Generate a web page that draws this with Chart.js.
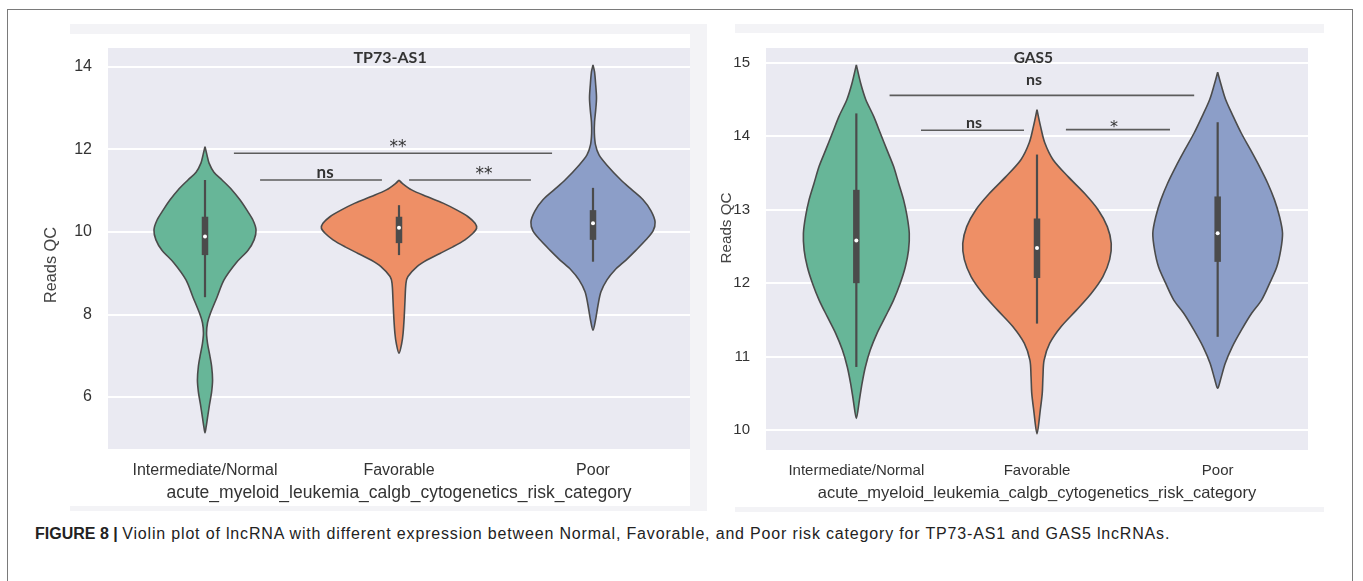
<!DOCTYPE html>
<html>
<head>
<meta charset="utf-8">
<script src="https://cdn.jsdelivr.net/npm/chart.js@4.4.1/dist/chart.umd.min.js"></script>
<style>
  html, body { margin: 0; padding: 0; background: #fff; }
  body { width: 1363px; height: 581px; position: relative; overflow: hidden; font-family: 'Liberation Sans', Arial, sans-serif; }
  #frame { position: absolute; left: 7px; top: 9px; width: 1344px; height: 620px; border: 1.5px solid #7a7a7a; border-bottom: none; }
  .band { position: absolute; background: #f3f3f6; }
  .panel { position: absolute; top: 0; }
  #caption { position: absolute; left: 35px; top: 525px; font-size: 16px; color: #222; white-space: nowrap; }
</style>
</head>
<body>
<div id="frame"></div>
<div class="band" style="left:70px;top:24px;width:620px;height:10px"></div>
<div class="band" style="left:70px;top:506px;width:620px;height:5px"></div>
<div class="band" style="left:690px;top:24px;width:17px;height:487px"></div>
<div class="band" style="left:735px;top:24px;width:589px;height:9px"></div>
<div class="band" style="left:735px;top:507px;width:589px;height:5px"></div>
<div class="panel" style="left:0"><canvas id="tp73" width="700" height="504"></canvas></div>
<div class="panel" style="left:710px"><canvas id="gas5" width="640" height="503"></canvas></div>
<div id="caption"><b>FIGURE 8 |</b> <span id="capText">Violin plot of lncRNA with different expression between Normal, Favorable, and Poor risk category for TP73-AS1 and GAS5 lncRNAs.</span></div>

<script>
// Risk categories shared by both panels
const categories = ['Intermediate/Normal', 'Favorable', 'Poor'];
const axisTitle = 'acute_myeloid_leukemia_calgb_cytogenetics_risk_category';

// ---- TP73-AS1 ----
// Violin outlines: Reads QC levels from top tip to bottom tip, with the half-width (category units) at each level
const tp73NormalY = [12.07, 11.87, 11.67, 11.45, 11.26, 11.02, 10.78, 10.53, 10.29, 10.05, 9.81, 9.56, 9.25, 8.84, 8.42, 8.03, 7.80, 7.55, 7.30, 7.05, 6.75, 6.41, 6.12, 5.81, 5.50, 5.25, 5.13];
const tp73NormalW = [0, .010, .021, .046, .088, .139, .180, .216, .247, .263, .253, .222, .160, .098, .062, .028, .013, .008, .013, .023, .034, .039, .034, .023, .013, .005, 0];
const tp73FavY = [11.26, 11.18, 11.02, 10.86, 10.70, 10.53, 10.37, 10.21, 10.09, 9.97, 9.81, 9.64, 9.48, 9.32, 9.16, 8.92, 8.76, 8.35, 7.95, 7.54, 7.30, 7.06];
const tp73FavW = [0, .017, .065, .143, .227, .299, .356, .392, .400, .381, .340, .278, .211, .144, .093, .046, .036, .031, .027, .021, .014, 0];
const tp73PoorY = [14.05, 13.88, 13.56, 13.25, 12.96, 12.67, 12.40, 12.11, 11.87, 11.62, 11.26, 11.02, 10.78, 10.51, 10.24, 10.02, 9.81, 9.56, 9.32, 9.08, 8.84, 8.55, 8.23, 7.92, 7.62];
const tp73PoorW = [0, .008, .014, .018, .014, .008, .007, .013, .031, .072, .144, .201, .258, .299, .320, .309, .273, .222, .170, .113, .072, .041, .026, .015, 0];
// Inner box per category: [whisker low, Q1, median, Q3, whisker high]
const tp73Box = [[8.42, 9.44, 9.89, 10.37, 11.26], [9.44, 9.73, 10.10, 10.37, 10.65], [9.28, 9.81, 10.21, 10.53, 11.07]];
const tp73Ticks = [6, 8, 10, 12, 14];
// Significance brackets: [from, to, level] and their labels
const tp73Brackets = [[0.149, 1.789, 11.91], [0.284, 0.912, 11.26], [1.052, 1.680, 11.26]];
const tp73Labels = ['**', 'ns', '**'];
const tp73LabelX = [0.995, 0.619, 1.438];
const tp73LabelY = [11.94, 11.31, 11.28];

// ---- GAS5 ----
const gas5NormalY = [14.97, 14.72, 14.50, 14.27, 14.04, 13.81, 13.59, 13.36, 13.13, 12.91, 12.68, 12.45, 12.22, 12.00, 11.77, 11.54, 11.32, 11.09, 10.86, 10.64, 10.41, 10.16];
const gas5NormalW = [0, .024, .052, .096, .133, .170, .206, .234, .262, .281, .293, .289, .271, .243, .206, .160, .115, .077, .050, .032, .017, 0];
const gas5FavY = [14.36, 14.13, 13.91, 13.68, 13.45, 13.22, 13.00, 12.77, 12.54, 12.32, 12.09, 11.86, 11.63, 11.41, 11.18, 10.95, 10.73, 10.50, 10.27, 9.95];
const gas5FavW = [0, .020, .043, .089, .172, .264, .338, .389, .411, .402, .365, .300, .217, .134, .070, .039, .033, .029, .018, 0];
const gas5PoorY = [14.87, 14.70, 14.50, 14.27, 14.04, 13.81, 13.59, 13.36, 13.13, 12.90, 12.68, 12.45, 12.22, 12.00, 11.77, 11.59, 11.36, 11.13, 10.91, 10.68, 10.57];
const gas5PoorW = [0, .019, .044, .086, .131, .183, .231, .277, .315, .343, .359, .349, .327, .288, .243, .188, .131, .080, .042, .015, 0];
const gas5Box = [[10.86, 12.00, 12.58, 13.27, 14.31], [11.45, 12.07, 12.48, 12.88, 13.75], [11.27, 12.29, 12.68, 13.18, 14.19]];
const gas5Ticks = [10, 11, 12, 13, 14, 15];
const gas5Brackets = [[0.184, 1.870, 14.555], [0.358, 0.928, 14.08], [1.160, 1.736, 14.09]];
const gas5Labels = ['ns', 'ns', '*'];
const gas5LabelX = [0.983, 0.651, 1.426];
const gas5LabelY = [14.70, 14.11, 14.06];

const fills = ['#67b698', '#ee8f66', '#8c9ec8'];
const ink = '#4b4b4b';
const textInk = '#333';
const sansFamily = "'Liberation Sans', Arial, sans-serif";

// Stretch the caption sentence so the line runs to its right end
(function fitCaption() {
  const span = document.getElementById('capText');
  const cap = document.getElementById('caption');
  const target = 1135;
  const natural = cap.getBoundingClientRect().width;
  const chars = span.textContent.length;
  span.style.letterSpacing = ((target - natural) / chars).toFixed(2) + 'px';
})();

// Closed violin path: right side top->bottom, then left side back up
function violinPath(center, ys, ws) {
  const right = ys.map((y, i) => ({ x: center + ws[i], y }));
  const left = ys.map((y, i) => ({ x: center - ws[i], y })).reverse().slice(1);
  return right.concat(left);
}

function buildDatasets(violins, boxes, brackets) {
  const ds = [];
  violins.forEach(([ys, ws], c) => {
    ds.push({ data: violinPath(c, ys, ws), fill: 'shape', backgroundColor: fills[c], borderColor: ink,
              borderWidth: 1.6, tension: 0.3, pointRadius: 0, order: 5 });
  });
  boxes.forEach((b, c) => {
    ds.push({ data: [{ x: c, y: b[0] }, { x: c, y: b[4] }], borderColor: ink, borderWidth: 2.2,
              pointRadius: 0, fill: false, order: 3 });
    ds.push({ data: [{ x: c, y: b[1] }, { x: c, y: b[3] }], borderColor: ink, borderWidth: 6.5,
              borderCapStyle: 'butt', pointRadius: 0, fill: false, order: 2 });
  });
  ds.push({ data: boxes.map((b, c) => ({ x: c, y: b[2] })), showLine: false, pointRadius: 2,
            pointBackgroundColor: '#fff', pointBorderWidth: 0, order: 1 });
  brackets.forEach(([a, b, y]) => {
    ds.push({ data: [{ x: a, y }, { x: b, y }], borderColor: '#5c5c5c', borderWidth: 1.6,
              pointRadius: 0, fill: false, order: 1 });
  });
  return ds;
}

const plotBackground = {
  id: 'plotBackground',
  beforeDraw(chart) {
    const { ctx, chartArea: a } = chart;
    ctx.save();
    ctx.fillStyle = '#eaeaf2';
    ctx.fillRect(a.left, a.top, a.right - a.left, a.bottom - a.top);
    ctx.restore();
  }
};

// Panel title, significance labels and the rotated y-axis title
const annotationText = {
  id: 'annotationText',
  afterDatasetsDraw(chart, args, opts) {
    const { ctx, scales: { x, y } } = chart;
    ctx.save();
    ctx.fillStyle = textInk;
    ctx.textAlign = 'center';
    ctx.textBaseline = 'alphabetic';
    ctx.font = `bold ${opts.titleSize}px Lato, 'Open Sans', sans-serif`;
    ctx.fillText(opts.title, x.getPixelForValue(opts.titleX), chart.chartArea.top + 15);
    opts.labels.forEach((t, i) => {
      ctx.font = t === 'ns' ? `bold ${opts.nsSize}px Lato, sans-serif` : `${opts.starSize}px 'DejaVu Sans', sans-serif`;
      ctx.fillText(t, x.getPixelForValue(opts.labelX[i]), y.getPixelForValue(opts.labelY[i]));
    });
    ctx.translate(opts.yTitlePos[0], opts.yTitlePos[1]);
    ctx.rotate(-Math.PI / 2);
    ctx.font = `${opts.yTitleSize}px ${sansFamily}`;
    ctx.fillStyle = '#444';
    ctx.textBaseline = 'middle';
    ctx.fillText('Reads QC', 0, 0);
    ctx.restore();
  }
};

function makeChart(id, cfg) {
  return new Chart(document.getElementById(id), {
    type: 'line',
    data: { datasets: buildDatasets(cfg.violins, cfg.boxes, cfg.brackets) },
    options: {
      responsive: false,
      animation: false,
      layout: { padding: { left: 0, top: 48, right: cfg.padRight, bottom: 0 } },
      plugins: {
        legend: { display: false },
        tooltip: { enabled: false },
        annotationText: cfg.text
      },
      scales: {
        x: {
          type: 'linear', min: -0.5, max: 2.5,
          afterBuildTicks: s => { s.ticks = categories.map((_, i) => ({ value: i })); },
          afterFit: s => { s.height = cfg.xHeight; },
          ticks: { callback: v => categories[Math.round(v)], autoSkip: false, maxRotation: 0,
                   padding: cfg.tickPad, color: textInk, font: { family: sansFamily, size: cfg.tickSize } },
          grid: { display: false, drawTicks: false },
          border: { display: false },
          title: { display: true, text: axisTitle, color: textInk, padding: { top: 0, bottom: 0 },
                   font: { family: sansFamily, size: cfg.titleSize } }
        },
        y: {
          type: 'linear', min: cfg.yMin, max: cfg.yMax,
          afterBuildTicks: s => { s.ticks = cfg.ticks.map(v => ({ value: v })); },
          afterFit: s => { s.width = cfg.yWidth; },
          ticks: { padding: 16, color: textInk, font: { family: sansFamily, size: cfg.tickSize } },
          grid: { color: '#ffffff', lineWidth: 2, drawTicks: false },
          border: { display: false }
        }
      }
    },
    plugins: [plotBackground, annotationText]
  });
}

makeChart('tp73', {
  violins: [[tp73NormalY, tp73NormalW], [tp73FavY, tp73FavW], [tp73PoorY, tp73PoorW]],
  boxes: tp73Box, brackets: tp73Brackets, ticks: tp73Ticks,
  yMin: 4.74, yMax: 14.46, padRight: 10, xHeight: 55, yWidth: 108,
  tickPad: 12.4, tickSize: 16, titleSize: 17.5,
  text: { title: 'TP73-AS1', titleX: 0.954, titleSize: 16, labels: tp73Labels, labelX: tp73LabelX, labelY: tp73LabelY,
          nsSize: 17, starSize: 17, yTitlePos: [52, 265], yTitleSize: 16.3 }
});

makeChart('gas5', {
  violins: [[gas5NormalY, gas5NormalW], [gas5FavY, gas5FavW], [gas5PoorY, gas5PoorW]],
  boxes: gas5Box, brackets: gas5Brackets, ticks: gas5Ticks,
  yMin: 9.73, yMax: 15.2, padRight: 42, xHeight: 53, yWidth: 56,
  tickPad: 12, tickSize: 15, titleSize: 16.5,
  text: { title: 'GAS5', titleX: 0.98, titleSize: 15.5, labels: gas5Labels, labelX: gas5LabelX, labelY: gas5LabelY,
          nsSize: 16, starSize: 16, yTitlePos: [16.5, 228], yTitleSize: 15.2 }
});
</script>
</body>
</html>
